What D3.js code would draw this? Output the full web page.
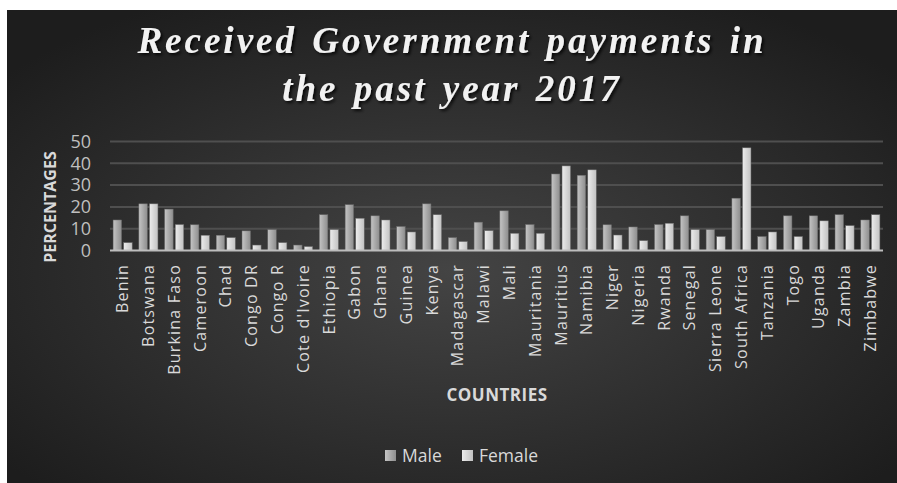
<!DOCTYPE html>
<html>
<head>
<meta charset="utf-8">
<script src="https://cdn.jsdelivr.net/npm/d3@7"></script>
<style>
  body { margin: 0; background: #fff; }
  svg { display: block; }
</style>
</head>
<body>
<div id="chart"></div>
<script>
// data
const countries = ["Benin", "Botswana", "Burkina Faso", "Cameroon", "Chad", "Congo DR", "Congo R",
  "Cote d'Ivoire", "Ethiopia", "Gabon", "Ghana", "Guinea", "Kenya", "Madagascar", "Malawi", "Mali",
  "Mauritania", "Mauritius", "Namibia", "Niger", "Nigeria", "Rwanda", "Senegal", "Sierra Leone",
  "South Africa", "Tanzania", "Togo", "Uganda", "Zambia", "Zimbabwe"];
const male = [14, 21.4, 19, 11.8, 7, 9, 9.6, 2.5, 16.4, 21, 15.9, 11, 21.4, 5.9, 13, 18.2, 11.9, 35.1,
  34.5, 11.8, 10.8, 11.9, 15.9, 9.6, 24, 6.4, 15.9, 15.9, 16.4, 14];
const female = [3.6, 21.4, 11.9, 7, 5.9, 2.5, 3.6, 1.8, 9.6, 14.8, 14, 8.5, 16.4, 4.1, 9.1, 7.9, 7.9,
  38.8, 37, 7.1, 4.5, 12.5, 9.6, 6.4, 47.1, 8.5, 6.4, 13.6, 11.4, 16.4];
const series = ["Male", "Female"];
const yTicks = [0, 10, 20, 30, 40, 50];

const W = 897, H = 483;
const font = "'Open Sans', 'Noto Sans', sans-serif";

let svg = d3.select("#chart").append("svg")
  .attr("width", W)
  .attr("height", H);

let defs = svg.append("defs");

// background gradient
let bg = defs.append("radialGradient").attr("id", "bg")
  .attr("cx", "50%").attr("cy", "55%").attr("r", "65%");
bg.append("stop").attr("offset", "0%").attr("stop-color", "#444444");
bg.append("stop").attr("offset", "100%").attr("stop-color", "#1d1d1d");

// bar gradients
let gMale = defs.append("linearGradient").attr("id", "gMale");
gMale.append("stop").attr("offset", "0%").attr("stop-color", "#c4c4c4");
gMale.append("stop").attr("offset", "100%").attr("stop-color", "#8e8e8e");
let gFemale = defs.append("linearGradient").attr("id", "gFemale");
gFemale.append("stop").attr("offset", "0%").attr("stop-color", "#ececec");
gFemale.append("stop").attr("offset", "100%").attr("stop-color", "#c2c2c2");

let shadow = defs.append("filter").attr("id", "shadow")
  .attr("x", "-10%").attr("y", "-10%").attr("width", "130%").attr("height", "140%");
shadow.append("feDropShadow").attr("dx", 2).attr("dy", 2).attr("stdDeviation", 1.5)
  .attr("flood-color", "#000").attr("flood-opacity", 0.8);

svg.append("rect")
  .attr("x", 7).attr("y", 10)
  .attr("width", W - 7).attr("height", H - 10)
  .attr("fill", "url(#bg)");

//--------------------------------------------------
// scales
//--------------------------------------------------
let x = d3.scaleBand().domain(countries).range([110, 883])
  .paddingInner(0.26).paddingOuter(0.12);
let xs = d3.scaleBand().domain(series).range([0, x.bandwidth()])
  .paddingInner(0.2).paddingOuter(0);
let y = d3.scaleLinear().domain([0, 50]).range([250.5, 141.5]);
let fills = { Male: "url(#gMale)", Female: "url(#gFemale)" };

// gridlines
svg.append("g")
  .selectAll("line")
  .data(yTicks.slice(1))
  .enter()
  .append("line")
  .attr("x1", 110).attr("x2", 883)
  .attr("y1", d => y(d)).attr("y2", d => y(d))
  .attr("stroke", "#4f4f4f")
  .attr("stroke-width", 2);

// y tick labels
svg.append("g")
  .selectAll("text")
  .data(yTicks)
  .enter()
  .append("text")
  .attr("x", 91)
  .attr("y", d => y(d))
  .attr("dy", "0.35em")
  .attr("text-anchor", "end")
  .attr("fill", "#bfbfbf")
  .style("font", `18px ${font}`)
  .text(d => d);

// bars
let rows = countries.map((c, i) => ({ country: c, Male: male[i], Female: female[i] }));
svg.append("g")
  .selectAll("g")
  .data(rows)
  .enter()
  .append("g")
  .attr("transform", d => `translate(${x(d.country)},0)`)
  .selectAll("rect")
  .data(d => series.map(s => ({ s: s, v: d[s] })))
  .enter()
  .append("rect")
  .attr("x", d => xs(d.s))
  .attr("y", d => y(d.v))
  .attr("width", xs.bandwidth())
  .attr("height", d => y(0) - y(d.v))
  .attr("fill", d => fills[d.s])
  .attr("stroke", "#6a6a6a")
  .attr("stroke-width", 0.5);

// baseline
svg.append("line")
  .attr("x1", 110).attr("x2", 883)
  .attr("y1", y(0)).attr("y2", y(0))
  .attr("stroke", "#bdbdbd")
  .attr("stroke-width", 2);

// x labels
svg.append("g")
  .selectAll("text")
  .data(countries)
  .enter()
  .append("text")
  .attr("transform", d => `translate(${x(d) + x.bandwidth() / 2},264) rotate(-90)`)
  .attr("dy", "0.35em")
  .attr("text-anchor", "end")
  .attr("fill", "#d9d9d9")
  .style("font", `16px ${font}`)
  .style("letter-spacing", "1.2px")
  .text(d => d);

// axis titles
svg.append("text")
  .attr("transform", "translate(50,207) rotate(-90)")
  .attr("dy", "0.35em")
  .attr("text-anchor", "middle")
  .attr("fill", "#d9d9d9")
  .style("font", `bold 16px ${font}`)
  .text("PERCENTAGES");

svg.append("text")
  .attr("x", 497).attr("y", 395)
  .attr("dy", "0.35em")
  .attr("text-anchor", "middle")
  .attr("fill", "#d9d9d9")
  .style("font", `bold 17px ${font}`)
  .style("letter-spacing", "0.5px")
  .text("COUNTRIES");

// title
let title = svg.append("text")
  .attr("text-anchor", "middle")
  .attr("fill", "#f2f2f2")
  .attr("filter", "url(#shadow)")
  .style("font", "italic bold 37px 'Liberation Serif', 'DejaVu Serif', serif")
  .style("letter-spacing", "3px")
  .style("word-spacing", "3px");
title.append("tspan").attr("x", 452).attr("y", 53).text("Received Government payments in");
title.append("tspan").attr("x", 452).attr("y", 101).text("the past year 2017");

// legend
let legend = svg.append("g")
  .selectAll("g")
  .data(series)
  .enter()
  .append("g")
  .attr("transform", (d, i) => `translate(${[385, 462][i]},450)`);
legend.append("rect")
  .attr("width", 11).attr("height", 11)
  .attr("fill", d => fills[d]);
legend.append("text")
  .attr("x", 17).attr("y", 6)
  .attr("dy", "0.35em")
  .attr("fill", "#d9d9d9")
  .style("font", `17.5px ${font}`)
  .text(d => d);
</script>
</body>
</html>
